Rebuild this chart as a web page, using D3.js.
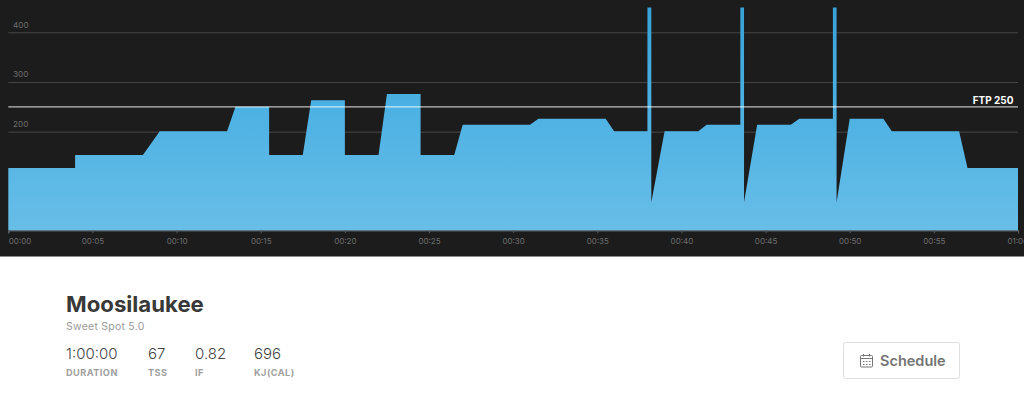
<!DOCTYPE html>
<html>
<head>
<meta charset="utf-8">
<script src="https://cdn.jsdelivr.net/npm/d3@7/dist/d3.min.js"></script>
<style>
html,body{margin:0;padding:0;background:#fff;overflow:hidden}
svg{display:block}
text{font-family:Inter,"Open Sans",sans-serif}
</style>
</head>
<body>
<svg id="c" width="1024" height="410"></svg>
<script>
const minutes = [0,3.97,3.97,8,9,13,13.5,15.5,15.5,17.5,18,20,20,22,22.5,24.5,24.5,26.5,27,31,31.5,35.5,36,37.98,37.98,38.21,38.21,39,41,41.5,43.5,43.5,43.72,43.72,44.5,46.5,47,49,49,49.22,49.22,50,52,52.5,56.5,57,60];
const watts   = [127,127,153,153,201,201,250,250,153,153,263,263,153,153,276,276,153,153,214,214,226,226,201,201,450,450,58,201,201,214,214,450,450,58,214,214,226,226,450,450,58,226,226,201,201,127,127];
const xTicks = [0,5,10,15,20,25,30,35,40,45,50,55,60];
const yTicks = [200,300,400];
const ftp = 250;
const title = "Moosilaukee";
const subtitle = "Sweet Spot 5.0";
const statValues = ["1:00:00","67","0.82","696"];
const statLabels = ["DURATION","TSS","IF","KJ(CAL)"];
const buttonLabel = "Schedule";

const svg = d3.select("#c");
const x = d3.scaleLinear().domain([0,60]).range([8.3,1018]);
const y = d3.scaleLinear().domain([0,400]).range([231,32.3]);
const baseY = 230.3;

const defs = svg.append("defs");
const grad = defs.append("linearGradient").attr("id","fill")
  .attr("gradientUnits","userSpaceOnUse").attr("x1",0).attr("x2",0).attr("y1",y(450)).attr("y2",baseY);
grad.append("stop").attr("offset",0).attr("stop-color","#37a2d7");
grad.append("stop").attr("offset",0.45).attr("stop-color","#4cb1e3");
grad.append("stop").attr("offset",1).attr("stop-color","#68bee7");

svg.append("rect").attr("width",1024).attr("height",256.5).attr("fill","#1c1c1c");

// grid
const yAxis = d3.axisRight(y).tickValues(yTicks).tickSize(1009.7).tickFormat("");
const gy = svg.append("g").attr("transform","translate(8.3,0)").call(yAxis);
gy.select(".domain").remove();
gy.selectAll("line").attr("stroke","#474747").attr("stroke-width",1);
svg.append("g").selectAll("text").data(yTicks).join("text")
  .attr("x",13).attr("y",d=>y(d)-4.5).attr("fill","#6e6e6e").attr("font-size",8.2).text(d=>d);

// area
const series = minutes.map((m,i)=>({m,w:watts[i]}));
const area = d3.area().x(d=>x(d.m)).y0(baseY).y1(d=>y(d.w));
svg.append("path").datum(series).attr("d",area).attr("fill","url(#fill)");

// x axis
const xAxis = d3.axisBottom(x).tickValues(xTicks).tickSize(3).tickPadding(5)
  .tickFormat(d=>(d===60?"01:00":"00:"+d3.format("02")(d)));
const gx = svg.append("g").attr("transform",`translate(0,${baseY})`).call(xAxis);
gx.select(".domain").attr("stroke","#6f8c9c").attr("stroke-width",1);
gx.selectAll("line").attr("stroke","#5a5a5a");
gx.selectAll("text").attr("fill","#6e6e6e").attr("font-size",8)
  .style("font-family","Inter,sans-serif");
gx.selectAll(".tick text").filter(d=>d===0).attr("text-anchor","start");
gx.selectAll(".tick text").filter(d=>d===60).attr("text-anchor","start").attr("dx",-11);

// FTP
svg.append("line").attr("x1",x(0)).attr("x2",x(60)).attr("y1",y(ftp)).attr("y2",y(ftp))
  .attr("stroke","#fff").attr("stroke-opacity",.72).attr("stroke-width",1.3);
svg.append("text").attr("x",1013.5).attr("y",104).attr("text-anchor","end")
  .attr("fill","#fff").attr("font-size",10).attr("font-weight",700).text("FTP "+ftp);

// info
svg.append("text").attr("x",66).attr("y",312).attr("fill","#383838").attr("font-size",22.2)
  .attr("font-weight",700).text(title);
svg.append("text").attr("x",66).attr("y",330).attr("fill","#9a9a9a").attr("font-size",10.5)
  .attr("letter-spacing",.25).text(subtitle);
const statX = [66,148,195,254];
statValues.forEach((v,i)=>{
  svg.append("text").attr("x",statX[i]).attr("y",359).attr("fill","#444").attr("font-size",15).attr("font-weight",300).text(v);
  svg.append("text").attr("x",statX[i]).attr("y",376).attr("fill","#a0a0a0").attr("font-size",9.2)
    .attr("letter-spacing",.45).attr("font-weight",700).text(statLabels[i]);
});

// button
svg.append("rect").attr("x",843.5).attr("y",342.5).attr("width",116).attr("height",36).attr("rx",2)
  .attr("fill","#fff").attr("stroke","#dedede");
const ic = svg.append("g").attr("fill","none").attr("stroke","#777").attr("stroke-width",1);
ic.append("rect").attr("x",860.5).attr("y",355.5).attr("width",12).attr("height",11.5).attr("rx",1);
ic.append("path").attr("d","M860.5 358.5H872.5M863.5 354V356.5M869.5 354V356.5M863 361.5h1.5M866 361.5h1.5M869 361.5h1.5M863 364.5h1.5M866 364.5h1.5M869 364.5h1.5");
svg.append("text").attr("x",880).attr("y",366).attr("fill","#737373").attr("font-size",14.5)
  .attr("font-weight",600).text(buttonLabel);
</script>
</body>
</html>
